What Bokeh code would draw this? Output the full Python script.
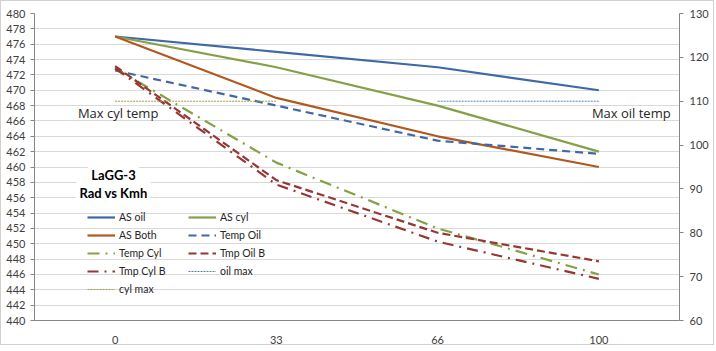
import numpy as np
from bokeh.plotting import figure
from bokeh.models import Range1d, LinearAxis, FixedTicker, Legend, LegendItem, Label
from bokeh.core.properties import value
from bokeh.embed import file_html
from bokeh.resources import INLINE

# ---- data ----
categories = ["0", "33", "66", "100"]
as_oil = [477, 475, 473, 470]
as_cyl = [477, 473, 468, 462]
as_both = [477, 469, 464, 460]
temp_oil = [117, 109, 101, 98]
temp_cyl = [117.5, 96, 81, 70.5]
tmp_oil_b = [118, 92, 80, 73.5]
tmp_cyl_b = [117.5, 91, 78, 69.5]
oil_max = [np.nan, np.nan, 110, 110]
cyl_max = [110, 110, np.nan, np.nan]
max_label_cats = ["0", "100"]
max_label_vals = [110, 110]
max_label_text = ["Max cyl temp", "Max oil temp"]
title_lines = ["LaGG-3", "Rad vs Kmh"]
left_ticks = list(range(440, 481, 2))
right_ticks = list(range(60, 131, 10))

FONT = "Lato"
BLUE = "#3F68A6"
GREEN = "#86A046"
ORANGE = "#B0581E"
RED = "#963735"

p = figure(width=714, height=345, x_range=categories, y_range=Range1d(440, 480),
           output_backend="svg", toolbar_location=None,
           min_border_left=33, min_border_right=36, min_border_top=12, min_border_bottom=23)
p.styles = {"border": "1px solid #D0D0D0"}
p.extra_y_ranges = {"temp": Range1d(60, 130)}
p.outline_line_color = None
p.background_fill_color = "white"
p.border_fill_color = "white"

# axes
p.yaxis.ticker = FixedTicker(ticks=left_ticks)
p.ygrid.ticker = FixedTicker(ticks=left_ticks)
p.ygrid.grid_line_color = "#D9D9D9"
p.xgrid.grid_line_color = None

for ax in [p.xaxis[0], p.yaxis[0]]:
    ax.axis_line_color = "#868686"
    ax.major_tick_line_color = "#868686"
    ax.minor_tick_line_color = None
    ax.major_label_text_font = FONT
    ax.major_label_text_font_size = "11px"
    ax.major_label_text_color = "#404040"

p.yaxis.major_tick_out = 4
p.yaxis.major_tick_in = 0
p.yaxis.major_label_standoff = 5
p.xaxis.major_tick_line_color = None
p.xaxis.major_label_standoff = 9

rax = LinearAxis(y_range_name="temp", ticker=FixedTicker(ticks=right_ticks))
rax.axis_line_color = "#868686"
rax.major_tick_line_color = "#868686"
rax.minor_tick_line_color = None
rax.major_tick_out = 4
rax.major_tick_in = 0
rax.major_label_standoff = 6
rax.major_label_text_font = FONT
rax.major_label_text_font_size = "11px"
rax.major_label_text_color = "#404040"
p.add_layout(rax, "right")

# series
r_as_oil = p.line(categories, as_oil, line_color=BLUE, line_width=2.2)
r_as_cyl = p.line(categories, as_cyl, line_color=GREEN, line_width=2.2)
r_as_both = p.line(categories, as_both, line_color=ORANGE, line_width=2.2)
r_temp_oil = p.line(categories, temp_oil, line_color=BLUE, line_width=2.2,
                    line_dash="8 5", y_range_name="temp")
r_temp_cyl = p.line(categories, temp_cyl, line_color=GREEN, line_width=2.2,
                    line_dash="12 6 2 6", y_range_name="temp")
r_tmp_oil_b = p.line(categories, tmp_oil_b, line_color=RED, line_width=2.2,
                     line_dash="8 4", y_range_name="temp")
r_tmp_cyl_b = p.line(categories, tmp_cyl_b, line_color=RED, line_width=2.2,
                     line_dash="11 6 2 6", y_range_name="temp")
r_oil_max = p.line(categories, oil_max, line_color="#4F81BD", line_width=1,
                   line_dash="2 1", y_range_name="temp")
r_cyl_max = p.line(categories, cyl_max, line_color="#A0A040", line_width=1,
                   line_dash="2 1", y_range_name="temp")

# max labels
p.text(x=max_label_cats[:1], y=max_label_vals[:1], text=max_label_text[:1],
       y_range_name="temp", text_align="center", text_baseline="middle", y_offset=12,
       x_offset=3, text_font=value("Open Sans"), text_font_size="13px", text_color="#262626")
p.text(x=max_label_cats[1:], y=max_label_vals[1:], text=max_label_text[1:],
       y_range_name="temp", text_align="left", text_baseline="middle", y_offset=12,
       x_offset=-7, text_font=value("Open Sans"), text_font_size="13px", text_color="#262626")

# title box
for txt, yy in zip(title_lines, [146, 128]):
    p.add_layout(Label(x=79, y=yy, x_units="screen", y_units="screen", text=txt,
                       text_align="center", text_baseline="middle",
                       text_font=FONT, text_font_size="13px", text_font_style="bold",
                       text_color="#000000", background_fill_color="white",
                       padding=3))

def make_legend(items, loc):
    leg = Legend(items=items, location=loc, padding=0, margin=0, spacing=4,
                 glyph_width=28, glyph_height=14, label_height=14, label_standoff=4,
                 label_text_font=FONT, label_text_font_size="10.5px",
                 label_text_color="#262626", border_line_color=None,
                 background_fill_alpha=0)
    return leg

leg1 = make_legend([
    LegendItem(label="AS oil", renderers=[r_as_oil]),
    LegendItem(label="AS Both", renderers=[r_as_both]),
    LegendItem(label="Temp Cyl", renderers=[r_temp_cyl]),
    LegendItem(label="Tmp Cyl B", renderers=[r_tmp_cyl_b]),
    LegendItem(label="cyl max", renderers=[r_cyl_max]),
], (53, 24))
leg2 = make_legend([
    LegendItem(label="AS cyl", renderers=[r_as_cyl]),
    LegendItem(label="Temp Oil", renderers=[r_temp_oil]),
    LegendItem(label="Tmp Oil B", renderers=[r_tmp_oil_b]),
    LegendItem(label="oil max", renderers=[r_oil_max]),
], (154, 42))
p.add_layout(leg1)
p.add_layout(leg2)

open("out.html", "w").write(file_html(p, INLINE))
